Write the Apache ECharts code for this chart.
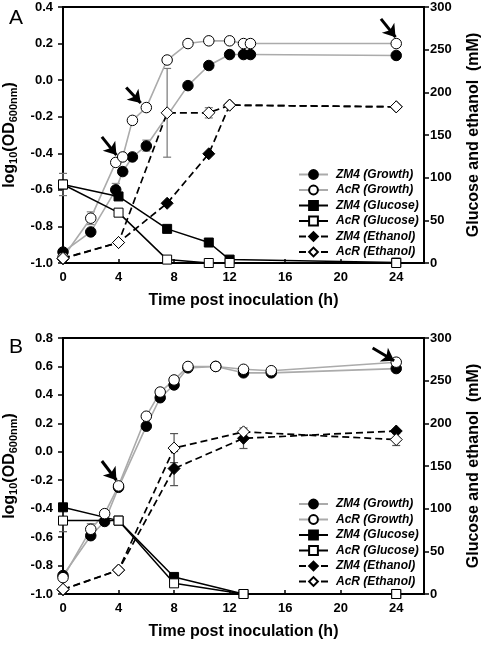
<!DOCTYPE html>
<html>
<head>
<meta charset="utf-8">
<script src="https://cdn.jsdelivr.net/npm/echarts@6/dist/echarts.min.js"></script>
<style>
html,body{margin:0;padding:0;background:#fff;}
#chart{width:486px;height:646px;}
</style>
</head>
<body>
<div id="chart"></div>
<script>
// ---------- DATA ----------
const seriesNames = ['ZM4 (Growth)','AcR (Growth)','ZM4 (Glucose)','AcR (Glucose)','ZM4 (Ethanol)','AcR (Ethanol)'];
const panelLabels = ['A','B'];
const xTitle = 'Time post inoculation (h)';
const rightTitle = 'Glucose and ethanol  (mM)';

// Panel A
const tA_zm4Growth = [0,2,3.8,4.3,5,6,9,10.5,12,13,13.5,24];
const vA_zm4Growth = [-0.94,-0.83,-0.60,-0.50,-0.42,-0.36,-0.03,0.08,0.14,0.14,0.14,0.135];
const tA_acrGrowth = [0,2,3.8,4.3,5,6,7.5,9,10.5,12,13,13.5,24];
const vA_acrGrowth = [-0.97,-0.755,-0.45,-0.42,-0.22,-0.15,0.11,0.20,0.215,0.215,0.20,0.20,0.20];
const tA_chem = [0,4,7.5,10.5,12,24];
const vA_zm4Glucose = [92,78,40,24,4,0.5];
const vA_acrGlucose = [92,59,4,0,0,0];
const vA_zm4Ethanol = [5,24,70,128,185,183];
const vA_acrEthanol = [5.5,24,176,176,185,183];
const errA_growth = [[2,-0.755,0.035],[3.8,-0.60,0.035],[6,-0.358,0.03]];
const errA_chem = [[7.5,176,52],[10.5,176,6],[0,92,13]];
const arrowsA = [[2.8,-0.31,3.85,-0.41],[4.55,-0.04,5.6,-0.125],[22.9,0.335,23.95,0.235]];

// Panel B
const tB_growth = [0,2,3,4,6,7,8,9,11,13,15,24];
const vB_zm4Growth = [-0.87,-0.59,-0.49,-0.25,0.18,0.38,0.47,0.59,0.60,0.555,0.555,0.585];
const vB_acrGrowth = [-0.885,-0.545,-0.435,-0.24,0.25,0.42,0.505,0.60,0.60,0.58,0.57,0.63];
const tB_chem = [0,4,8,13,24];
const vB_zm4Glucose = [101.6,86,20,0,0];
const vB_acrGlucose = [86,86,12.5,0,0];
const vB_zm4Ethanol = [5,28,147,182.5,191];
const vB_acrEthanol = [5.5,28,171,190,181];
const errB_growth = [[2,-0.545,0.04],[7,0.42,0.025],[11,0.60,0.025]];
const errB_chem = [[0,86,13],[8,171,17],[8,147,20],[13,182.5,12],[24,181,7]];
const arrowsB = [[2.8,-0.065,3.85,-0.2],[22.3,0.73,23.85,0.64]];

// ---------- BUILD ----------
const FONT = '"Liberation Sans", Arial, sans-serif';
const zip = (t,v) => t.map((x,i)=>[x,v[i]]);
const GRAY = '#ababab';

const styles = [
  {symbol:'circle', size:10.5, fill:'#000', line:GRAY, dash:'solid', w:1.6},
  {symbol:'circle', size:10.5, fill:'#fff', line:GRAY, dash:'solid', w:1.6},
  {symbol:'rect', size:9, fill:'#000', line:'#000', dash:'solid', w:1.5},
  {symbol:'rect', size:9, fill:'#fff', line:'#000', dash:'solid', w:1.5},
  {symbol:'diamond', size:12, fill:'#000', line:'#000', dash:[7,4], w:1.7},
  {symbol:'diamond', size:12, fill:'#fff', line:'#000', dash:[7,4], w:1.7}
];

function lineSeries(idx, gi, yi, data, arrows){
  const s = styles[idx];
  const ser = {
    type:'line', name:seriesNames[idx], xAxisIndex:gi, yAxisIndex:yi,
    data:data, symbol:s.symbol, symbolSize:s.size, showSymbol:true,
    lineStyle:{color:s.line, width:s.w, type:s.dash},
    itemStyle:{color:s.fill, borderColor:'#000', borderWidth:1},
    z:3, animation:false
  };
  if (arrows){
    ser.markLine = {
      silent:true, animation:false, symbol:['none','arrow'], symbolSize:12,
      label:{show:false}, lineStyle:{color:'#000', width:3, type:'solid'},
      emphasis:{disabled:true},
      data: arrows.map(a=>[{coord:[a[0],a[1]]},{coord:[a[2],a[3]]}])
    };
  }
  return ser;
}

function errSeries(gi, yi, data, color){
  return {
    type:'custom', xAxisIndex:gi, yAxisIndex:yi, z:1, silent:true, animation:false,
    data:data,
    renderItem:function(params, api){
      const x=api.value(0), y=api.value(1), e=api.value(2);
      const top=api.coord([x,y+e]), bot=api.coord([x,y-e]);
      const w=4;
      const st={stroke:color, lineWidth:1.2};
      return {type:'group', children:[
        {type:'line', shape:{x1:top[0],y1:top[1],x2:bot[0],y2:bot[1]}, style:st},
        {type:'line', shape:{x1:top[0]-w,y1:top[1],x2:top[0]+w,y2:top[1]}, style:st},
        {type:'line', shape:{x1:bot[0]-w,y1:bot[1],x2:bot[0]+w,y2:bot[1]}, style:st}
      ]};
    }
  };
}

const grids = [
  {left:63, width:361, top:7, height:256},
  {left:63, width:361, top:338, height:256}
].map(g=>Object.assign(g,{show:true, borderColor:'#000', borderWidth:2, backgroundColor:'transparent',
  containLabel:false, outerBoundsMode:'none'}));

const labelStyle = {fontSize:13, fontWeight:'bold', color:'#000', fontFamily:FONT};

const xAxes = [0,1].map(i=>({
  type:'value', gridIndex:i, min:0, max:26, interval:4,
  axisLine:{show:true, onZero:false, lineStyle:{color:'#000', width:2}},
  axisTick:{show:true, inside:true, length:4, lineStyle:{color:'#000', width:1.5}},
  axisLabel:Object.assign({showMaxLabel:false, margin:8}, labelStyle),
  splitLine:{show:false},
  name:xTitle, nameLocation:'middle', nameGap:30,
  nameTextStyle:{fontSize:16, fontWeight:'bold', color:'#000', fontFamily:FONT, verticalAlign:'top'}
}));

const leftRanges = [[-1,0.4],[-1,0.8]];
const yAxes = [];
[0,1].forEach(i=>{
  yAxes.push({
    type:'value', gridIndex:i, position:'left', min:leftRanges[i][0], max:leftRanges[i][1], interval:0.2,
    axisLine:{show:true, onZero:false, lineStyle:{color:'#000', width:2}},
    axisTick:{show:true, inside:false, length:5, lineStyle:{color:'#000', width:1.5}},
    axisLabel:Object.assign({margin:10, formatter:v=>v.toFixed(1)}, labelStyle),
    splitLine:{show:false},
    name:'{m|log}{s|10}{m|(OD}{s|600nm}{m|)}', nameLocation:'middle', nameGap:30, nameRotate:90,
    nameTextStyle:{fontFamily:FONT, color:'#000', rich:{
      m:{fontSize:16, fontWeight:'bold', fontFamily:FONT, color:'#000', lineHeight:20, verticalAlign:'middle'},
      s:{fontSize:11, fontWeight:'bold', fontFamily:FONT, color:'#000', lineHeight:20, verticalAlign:'bottom'}
    }}
  });
  yAxes.push({
    type:'value', gridIndex:i, position:'right', min:0, max:300, interval:50,
    axisLine:{show:true, onZero:false, lineStyle:{color:'#000', width:2}},
    axisTick:{show:true, inside:false, length:5, lineStyle:{color:'#000', width:1.5}},
    axisLabel:Object.assign({margin:6}, labelStyle),
    splitLine:{show:false},
    name:rightTitle, nameLocation:'middle', nameGap:42, nameRotate:90,
    nameTextStyle:{fontSize:16, fontWeight:'bold', color:'#000', fontFamily:FONT}
  });
});

const series = [
  errSeries(0,0,errA_growth,'#888'),
  errSeries(0,1,errA_chem,'#777'),
  lineSeries(0,0,0,zip(tA_zm4Growth,vA_zm4Growth)),
  lineSeries(1,0,0,zip(tA_acrGrowth,vA_acrGrowth),arrowsA),
  lineSeries(2,0,1,zip(tA_chem,vA_zm4Glucose)),
  lineSeries(3,0,1,zip(tA_chem,vA_acrGlucose)),
  lineSeries(4,0,1,zip(tA_chem,vA_zm4Ethanol)),
  lineSeries(5,0,1,zip(tA_chem,vA_acrEthanol)),
  errSeries(1,2,errB_growth,'#888'),
  errSeries(1,3,errB_chem,'#555'),
  lineSeries(0,1,2,zip(tB_growth,vB_zm4Growth)),
  lineSeries(1,1,2,zip(tB_growth,vB_acrGrowth),arrowsB),
  lineSeries(2,1,3,zip(tB_chem,vB_zm4Glucose)),
  lineSeries(3,1,3,zip(tB_chem,vB_acrGlucose)),
  lineSeries(4,1,3,zip(tB_chem,vB_zm4Ethanol)),
  lineSeries(5,1,3,zip(tB_chem,vB_acrEthanol))
];

const legendBase = {
  orient:'vertical', left:293, itemWidth:29, itemHeight:11, itemGap:1.5,
  data:seriesNames, selectedMode:false,
  textStyle:{fontSize:12, fontWeight:'bold', fontStyle:'italic', color:'#000', fontFamily:FONT, lineHeight:14, padding:[0,0,0,3]}
};

const option = {
  animation:false,
  backgroundColor:'#fff',
  title: panelLabels.map((t,i)=>({text:t, left:4, top: i===0 ? 3 : 332,
    textStyle:{fontSize:21, fontWeight:'normal', color:'#000', fontFamily:FONT}})),
  grid:grids,
  xAxis:xAxes,
  yAxis:yAxes,
  legend:[Object.assign({top:162.5},legendBase), Object.assign({top:492},legendBase)],
  series:series
};

const chart = echarts.init(document.getElementById('chart'), null, {renderer:'canvas'});
chart.setOption(option);
</script>
</body>
</html>
